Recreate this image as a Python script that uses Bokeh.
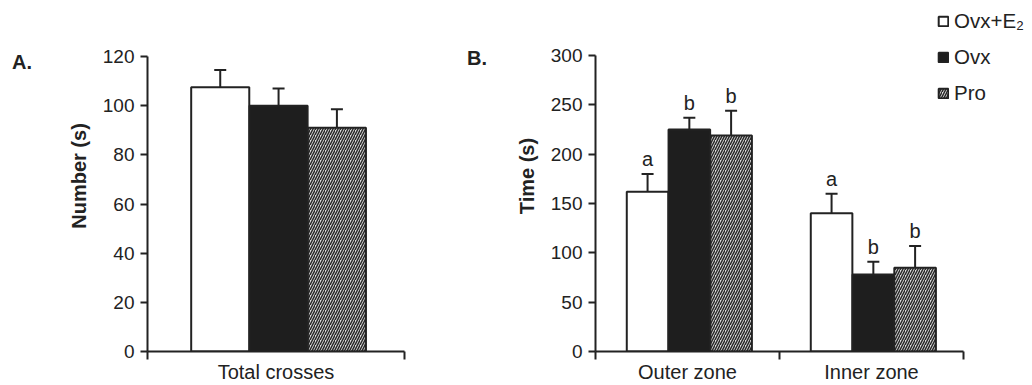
from bokeh.plotting import figure
from bokeh.models import (ColumnDataSource, FixedTicker, Whisker, TeeHead,
                          Legend, LegendItem, Range1d, Div)
from bokeh.layouts import row
from bokeh.embed import file_html
from bokeh.resources import INLINE
from bokeh.core.properties import value

# ---------------- data ----------------
series_names = ["Ovx+E\u2082", "Ovx", "Pro"]

a_categories = ["Total crosses"]
a_ovx_e2 = [107.5]
a_ovx_e2_err = [7]
a_ovx = [100]
a_ovx_err = [7]
a_pro = [91]
a_pro_err = [7.5]
a_yticks = [0, 20, 40, 60, 80, 100, 120]

b_categories = ["Outer zone", "Inner zone"]
b_ovx_e2 = [162, 140]
b_ovx_e2_err = [18, 20]
b_ovx_e2_sig = ["a", "a"]
b_ovx = [225, 78]
b_ovx_err = [12, 13]
b_ovx_sig = ["b", "b"]
b_pro = [219, 85]
b_pro_err = [25, 22]
b_pro_sig = ["b", "b"]
b_yticks = [0, 50, 100, 150, 200, 250, 300]

# ---------------- style ----------------
FONT = "Liberation Sans"
INK = "#222222"
styles = [
    dict(fill_color="white"),
    dict(fill_color="#1e1e1e"),
    dict(fill_color="#dedede", hatch_pattern="/", hatch_color="#2a2a2a",
         hatch_scale=5, hatch_weight=1.5),
]
BAR_W = 0.226
OFFSET = 0.227
CENTER = 0.51
H = 385
BOTTOM = 34          # space under the plot frames (frames share top/bottom in a row)
FRAME_H = H - BOTTOM


def make_panel(categories, means, errs, sigs, yticks, ylabel, width,
               min_left, min_right, frame_w, axis_w, axis_h):
    n = len(categories)
    ymax = yticks[-1]
    # ranges extend beyond the drawn axes; axis bounds keep the axes at the data extent
    x_end = n * frame_w / axis_w
    y_end = ymax * FRAME_H / axis_h
    p = figure(width=width, height=H, output_backend="svg", toolbar_location=None,
               x_range=Range1d(0, x_end), y_range=Range1d(0, y_end),
               min_border_left=min_left, min_border_right=min_right,
               min_border_top=0, min_border_bottom=BOTTOM)
    p.outline_line_color = None
    p.xgrid.visible = False
    p.ygrid.visible = False
    p.background_fill_color = "white"
    p.border_fill_color = "white"

    renderers = []
    for j, (m, e) in enumerate(zip(means, errs)):
        xs = [i + CENTER + (j - 1) * OFFSET for i in range(n)]
        src = ColumnDataSource(dict(x=xs, top=m, upper=[a + b for a, b in zip(m, e)]))
        r = p.vbar(x="x", top="top", bottom=0, width=BAR_W, source=src,
                   line_color=INK, line_width=2, **styles[j])
        renderers.append(r)
        w = Whisker(base="x", upper="upper", lower="top", dimension="height",
                    source=src, line_color=INK, line_width=2,
                    upper_head=TeeHead(size=12, line_color=INK, line_width=2),
                    lower_head=None, level="overlay")
        p.add_layout(w)
        if sigs is not None:
            src.data["sig"] = sigs[j]
            p.text(x="x", y="upper", text="sig", source=src, text_align="center",
                   text_baseline="bottom", y_offset=-4, text_color=INK,
                   text_font=value(FONT), text_font_size="20px")

    # x axis: labels at category centres, ticks at category boundaries
    p.xaxis.bounds = (0, n)
    p.xaxis.ticker = FixedTicker(ticks=[i + 0.5 for i in range(n)],
                                 minor_ticks=list(range(n + 1)))
    p.xaxis.major_label_overrides = {i + 0.5: c for i, c in enumerate(categories)}
    p.xaxis.major_tick_out = 0
    p.xaxis.major_tick_in = 0
    p.xaxis.minor_tick_out = 8
    p.xaxis.minor_tick_in = 0
    p.xaxis.minor_tick_line_width = 2
    p.xaxis.minor_tick_line_color = INK
    p.xaxis.axis_line_width = 2
    p.xaxis.axis_line_color = INK
    p.xaxis.major_label_text_font = FONT
    p.xaxis.major_label_text_font_size = "20px"
    p.xaxis.major_label_text_color = INK
    p.xaxis.major_label_standoff = 1

    p.yaxis.bounds = (0, ymax)
    p.yaxis.ticker = FixedTicker(ticks=yticks, minor_ticks=[])
    p.yaxis.major_tick_out = 7
    p.yaxis.major_tick_in = 0
    p.yaxis.major_tick_line_width = 2
    p.yaxis.major_tick_line_color = INK
    p.yaxis.axis_line_width = 2
    p.yaxis.axis_line_color = INK
    p.yaxis.major_label_text_font = FONT
    p.yaxis.major_label_text_font_size = "19px"
    p.yaxis.major_label_text_color = INK
    p.yaxis.major_label_standoff = 6
    p.yaxis.axis_label = ylabel
    p.yaxis.axis_label_text_font = FONT
    p.yaxis.axis_label_text_font_size = "20px"
    p.yaxis.axis_label_text_font_style = "bold"
    p.yaxis.axis_label_text_color = INK
    p.yaxis.axis_label_standoff = 10
    return p, renderers


def panel_letter(text, width, pad_left, pad_top):
    return Div(text=text, width=width, height=H, margin=0,
               styles={"font-family": FONT, "font-size": "20px", "font-weight": "bold",
                       "color": INK, "padding-left": f"{pad_left}px",
                       "padding-top": f"{pad_top}px", "line-height": "22px",
                       "box-sizing": "border-box", "background": "white"})


div_a = panel_letter("A.", 40, 12, 51)
pa, _ = make_panel(a_categories, [a_ovx_e2, a_ovx, a_pro],
                   [a_ovx_e2_err, a_ovx_err, a_pro_err], None, a_yticks,
                   "Number (s)", width=420, min_left=107, min_right=56,
                   frame_w=257, axis_w=257, axis_h=FRAME_H - 56)

div_b = panel_letter("B.", 30, 7, 47)
pb, rb = make_panel(b_categories, [b_ovx_e2, b_ovx, b_pro],
                    [b_ovx_e2_err, b_ovx_err, b_pro_err],
                    [b_ovx_e2_sig, b_ovx_sig, b_pro_sig], b_yticks,
                    "Time (s)", width=542, min_left=105, min_right=0,
                    frame_w=437, axis_w=368, axis_h=FRAME_H - 55)

legend = Legend(items=[LegendItem(label=nm, renderers=[r]) for nm, r in zip(series_names, rb)],
                location=(342, 246), padding=0, margin=0, spacing=12,
                glyph_width=12, glyph_height=12, label_standoff=5, label_height=22,
                label_text_font=FONT, label_text_font_size="20.5px",
                label_text_color=INK, border_line_color=None, background_fill_alpha=0)
pb.add_layout(legend, "center")

layout = row(div_a, pa, div_b, pb)
open("out.html", "w").write(file_html(layout, INLINE))
